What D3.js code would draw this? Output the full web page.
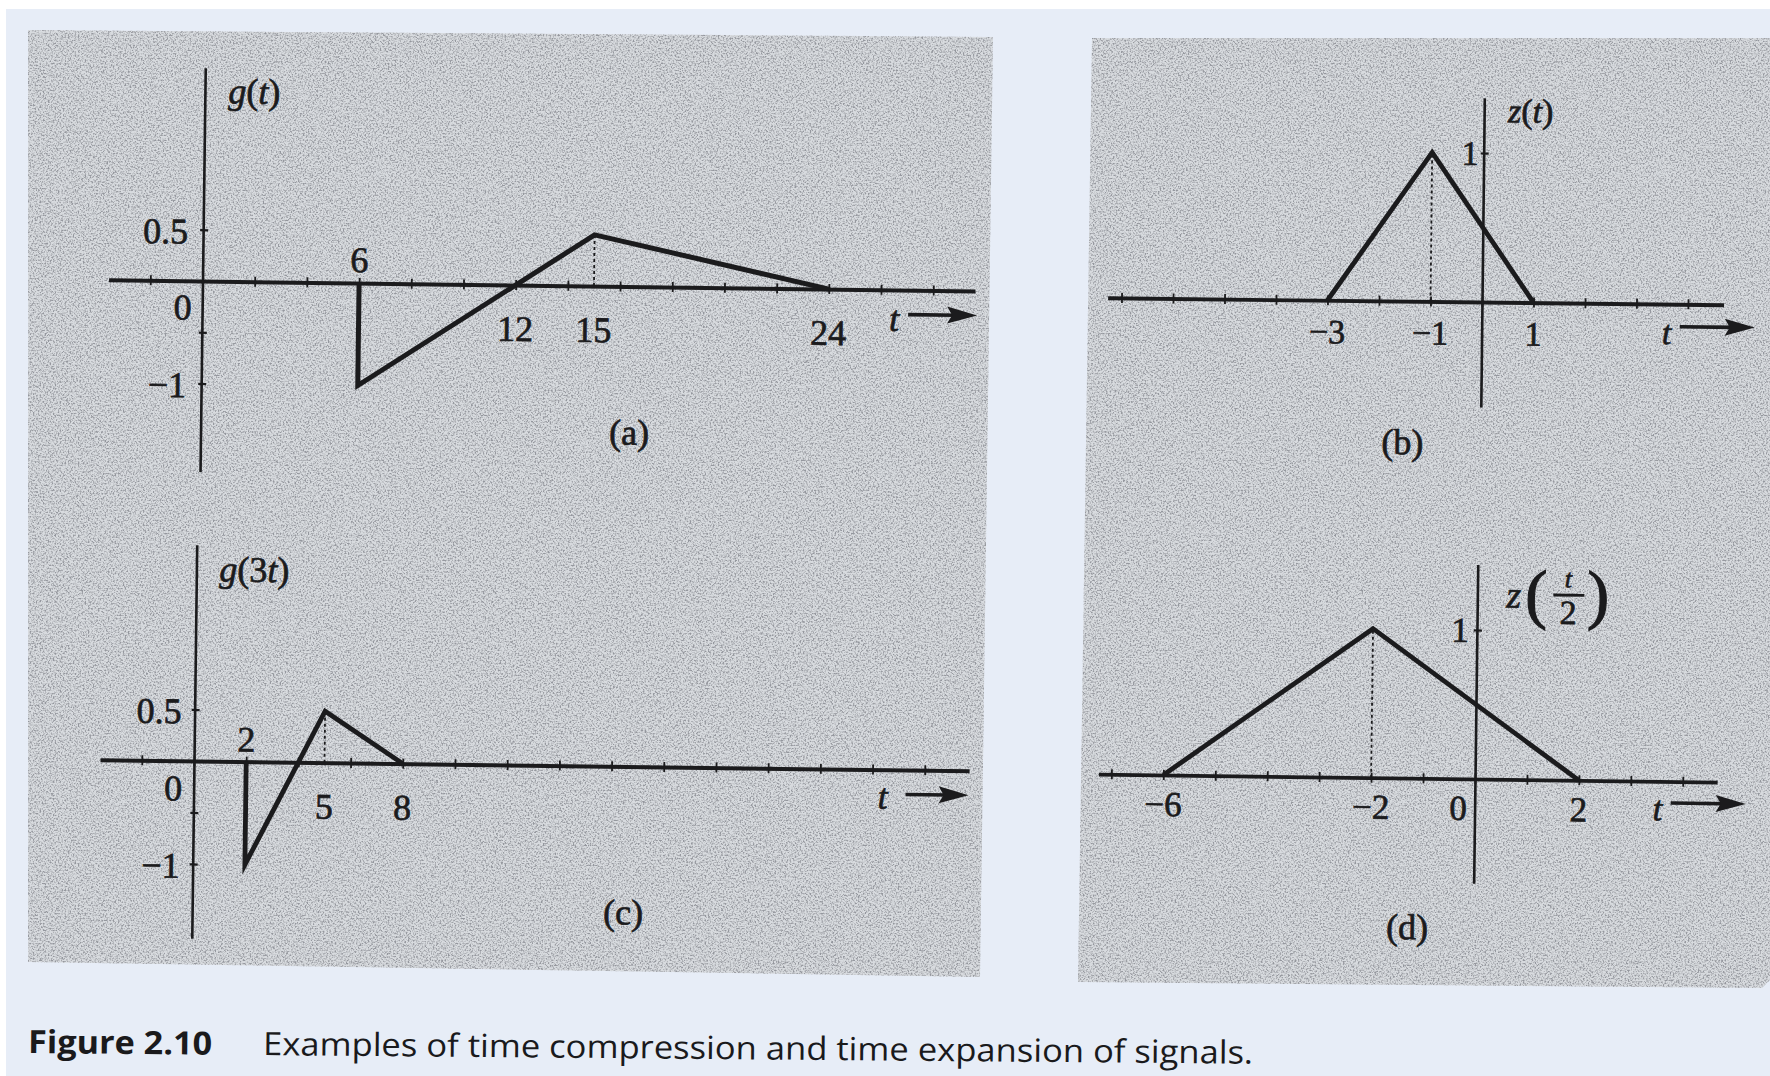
<!DOCTYPE html>
<html><head><meta charset="utf-8">
<script src="https://cdn.jsdelivr.net/npm/d3@7"></script>
<style>
html,body{margin:0;padding:0;background:#ffffff;}
svg{display:block;}
</style></head><body>
<svg id="fig" width="1770" height="1076"></svg>
<script>
// ---------------- data ----------------
const gTime  = [6, 6, 15, 24];
const gValue = [0, -1, 0.5, 0];
const g3Time  = [2, 2, 5, 8];
const g3Value = [0, -1, 0.5, 0];
const zTime  = [-3, -1, 1];
const zValue = [0, 1, 0];
const z2Time  = [-6, -2, 2];
const z2Value = [0, 1, 0];

const gPeak = [15, 0.5], g3Peak = [5, 0.5], zPeak = [-1, 1], z2Peak = [-2, 1];

const gLabelsAbove = [6],  gLabelsBelow = [12, 15, 24];
const g3LabelsAbove = [2], g3LabelsBelow = [5, 8];
const zLabelsBelow = [-3, -1, 1];
const z2LabelsBelow = [-6, -2, 2];
const gYLabels = [0.5, -1], g3YLabels = [0.5, -1], zYLabels = [1], z2YLabels = [1];
const gYTicks = [0.5, -0.5, -1], zYTicks = [1];
const gXTicks = d3.range(-2, 30, 2), zXTicks = d3.range(-7, 5, 1);

const captionBold = "Figure 2.10";
const captionText = "Examples of time compression and time expansion of signals.";

// ---------------- layout ----------------
const ink = "#1b1b1d";
const serif = "'Liberation Serif','DejaVu Serif',serif";
const fmt = d3.format("~g");

const svg = d3.select("#fig");
const defs = svg.append("defs");
const f = defs.append("filter").attr("id", "grain")
  .attr("x", 0).attr("y", 0).attr("width", "100%").attr("height", "100%");
f.append("feTurbulence").attr("type", "fractalNoise").attr("baseFrequency", 0.6)
  .attr("numOctaves", 3).attr("seed", 7).attr("result", "n");
f.append("feColorMatrix").attr("in", "n").attr("type", "matrix")
  .attr("values", "0 0 0 0 0.30  0 0 0 0 0.31  0 0 0 0 0.34  3.2 0 0 0 -1.35").attr("result", "d");
f.append("feComposite").attr("in", "d").attr("in2", "SourceGraphic").attr("operator", "in").attr("result", "m");
const fm = f.append("feMerge");
fm.append("feMergeNode").attr("in", "SourceGraphic");
fm.append("feMergeNode").attr("in", "m");

// page
svg.append("rect").attr("x", 6).attr("y", 9).attr("width", 1764).attr("height", 1067).attr("fill", "#e7edf7");
// scanned grey panels
const panelShapes = [
  [[28, 30], [993, 37], [980, 977], [28, 962]],
  [[1092, 38], [1770, 38], [1770, 980], [1762, 988], [1078, 982]]
];
svg.selectAll("polygon.bg").data(panelShapes).enter().append("polygon")
  .attr("class", "bg")
  .attr("points", d => d.map(p => p.join(",")).join(" "))
  .attr("fill", "#d8dbdf").attr("filter", "url(#grain)");

const panels = [
  { id: "a", time: gTime, value: gValue, peak: gPeak, origin: [202.5, 281], ux: 26.1, uy: 102.5,
    tExt: [-3.6, 29.6], vExt: [-1.86, 2.08], rot: 0.74, xTicks: gXTicks, yTicks: gYTicks,
    above: gLabelsAbove, below: gLabelsBelow, yLabels: gYLabels, zero: [-19.5, 38.5],
    fs: 36, belowDy: 56, aboveDy: -11, yLabelDx: -15, yLabelDy: 14,
    title: [["g", true], ["(", false], ["t", true], [")", false]], titlePos: [23.5, -178],
    letter: "(a)", letterPos: [428.5, 158], tPos: [692, 41], arrow: [706, 775, 24.5],
    sw: 5, axw: 4 },
  { id: "c", time: g3Time, value: g3Value, peak: g3Peak, origin: [194, 761], ux: 26.1, uy: 103,
    tExt: [-3.6, 29.7], vExt: [-1.72, 2.1], rot: 0.72, xTicks: gXTicks, yTicks: gYTicks,
    above: g3LabelsAbove, below: g3LabelsBelow, yLabels: g3YLabels, zero: [-20.5, 39.5],
    fs: 36, belowDy: 56, aboveDy: -10, yLabelDx: -13, yLabelDy: 14,
    title: [["g", true], ["(3", false], ["t", true], [")", false]], titlePos: [23, -180],
    letter: "(c)", letterPos: [431, 158], tPos: [689, 39], arrow: [712, 775, 24.5],
    sw: 4.8, axw: 4 },
  { id: "b", time: zTime, value: zValue, peak: zPeak, origin: [1482, 302], ux: 51.5, uy: 149,
    tExt: [-7.27, 4.69], vExt: [-0.705, 1.37], rot: 0.65, xTicks: zXTicks, yTicks: zYTicks,
    above: [], below: zLabelsBelow, yLabels: zYLabels, zero: null,
    fs: 34, belowDy: 43, aboveDy: 0, yLabelDx: -5, yLabelDy: 12,
    title: [["z", true], ["(", false], ["t", true], [")", false]], titlePos: [24, -180],
    letter: "(b)", letterPos: [-78, 153], tPos: [185, 40], arrow: [198, 273, 22.5],
    sw: 4.8, axw: 3.8 },
  { id: "d", time: z2Time, value: z2Value, peak: z2Peak, origin: [1475, 779], ux: 51.95, uy: 149,
    tExt: [-7.25, 4.66], vExt: [-0.70, 1.44], rot: 0.74, xTicks: zXTicks, yTicks: zYTicks,
    above: [], below: z2LabelsBelow, yLabels: z2YLabels, zero: [-16.5, 41],
    fs: 35, belowDy: 41, aboveDy: 0, yLabelDx: -8, yLabelDy: 12,
    title: null, titlePos: [29, -174],
    letter: "(d)", letterPos: [-66, 161], tPos: [183, 39], arrow: [196, 271, 21.5],
    sw: 4.8, axw: 3.8 }
];

panels.forEach(p => {
  const g = svg.append("g")
    .attr("transform", `translate(${p.origin[0]},${p.origin[1]}) rotate(${p.rot})`);
  const x = d3.scaleLinear().domain(p.tExt).range(p.tExt.map(t => t * p.ux));
  const y = d3.scaleLinear().domain(p.vExt).range(p.vExt.map(v => -v * p.uy));

  // horizontal axis
  const xa = g.append("g").call(d3.axisBottom(x).tickValues(p.xTicks).tickSizeOuter(0).tickSizeInner(4).tickFormat(""));
  xa.select(".domain").attr("stroke", ink).attr("stroke-width", p.axw);
  xa.selectAll(".tick line").attr("stroke", ink).attr("stroke-width", 1.8).attr("y1", -5).attr("y2", 5);

  // vertical axis
  const ya = g.append("g").call(d3.axisLeft(y).tickValues(p.yTicks).tickSizeOuter(0).tickSizeInner(4).tickFormat(""));
  ya.select(".domain").attr("stroke", ink).attr("stroke-width", 2.6);
  ya.selectAll(".tick line").attr("stroke", ink).attr("stroke-width", 2.2).attr("x1", -3).attr("x2", 5);

  // dotted guide
  g.append("line")
    .attr("x1", x(p.peak[0])).attr("x2", x(p.peak[0]))
    .attr("y1", y(0)).attr("y2", y(p.peak[1]))
    .attr("stroke", ink).attr("stroke-width", 1.8).attr("stroke-dasharray", "3,3");

  // signal
  const pts = p.time.map((t, i) => [t, p.value[i]]);
  g.append("path").datum(pts)
    .attr("d", d3.line().x(d => x(d[0])).y(d => y(d[1])))
    .attr("fill", "none").attr("stroke", ink).attr("stroke-width", p.sw)
    .attr("stroke-linejoin", "miter").attr("stroke-miterlimit", 10);

  const txt = g.append("g").attr("font-family", serif).attr("font-size", p.fs).attr("fill", ink)
    .attr("stroke", ink).attr("stroke-width", 0.7);

  // time labels
  txt.selectAll("text.below").data(p.below).enter().append("text")
    .attr("x", d => x(d)).attr("y", p.belowDy).attr("text-anchor", "middle").text(d => fmt(d));
  txt.selectAll("text.above").data(p.above).enter().append("text")
    .attr("x", d => x(d)).attr("y", p.aboveDy).attr("text-anchor", "middle").text(d => fmt(d));
  if (p.zero) txt.append("text").attr("x", p.zero[0]).attr("y", p.zero[1]).attr("text-anchor", "middle").text("0");

  // value labels
  txt.selectAll("text.yl").data(p.yLabels).enter().append("text")
    .attr("x", p.yLabelDx).attr("y", d => y(d) + p.yLabelDy).attr("text-anchor", "end").text(d => fmt(d));

  // title
  if (p.title) {
    const tt = txt.append("text").attr("x", p.titlePos[0]).attr("y", p.titlePos[1]);
    p.title.forEach(([s, it]) => tt.append("tspan").attr("font-style", it ? "italic" : "normal").text(s));
  } else {
    const tg = txt.append("g").attr("transform", `translate(${p.titlePos[0]},${p.titlePos[1]})`);
    tg.append("text").attr("x", 0).attr("y", 2).attr("font-style", "italic").attr("font-size", 38).text("z");
    tg.append("text").attr("x", 19).attr("y", 10).attr("font-size", 66).attr("stroke-width", 1.2).text("(");
    tg.append("text").attr("x", 62).attr("y", -19).attr("font-style", "italic").attr("font-size", 26)
      .attr("text-anchor", "middle").text("t");
    tg.append("line").attr("x1", 47).attr("x2", 78).attr("y1", -11).attr("y2", -11)
      .attr("stroke", ink).attr("stroke-width", 2.8);
    tg.append("text").attr("x", 62).attr("y", 18).attr("font-size", 34).attr("text-anchor", "middle").text("2");
    tg.append("text").attr("x", 81).attr("y", 10).attr("font-size", 66).attr("stroke-width", 1.2).text(")");
  }

  // panel letter
  txt.append("text").attr("x", p.letterPos[0]).attr("y", p.letterPos[1])
    .attr("text-anchor", "middle").attr("font-size", 36).text(p.letter);

  // t -> arrow
  txt.append("text").attr("x", p.tPos[0]).attr("y", p.tPos[1]).attr("text-anchor", "middle")
    .attr("font-style", "italic").text("t");
  const [a0, a1, ay] = p.arrow;
  g.append("line").attr("x1", a0).attr("x2", a1 - 20).attr("y1", ay).attr("y2", ay)
    .attr("stroke", ink).attr("stroke-width", 3.6);
  g.append("path")
    .attr("d", `M${a1},${ay} L${a1 - 30},${ay - 8.5} L${a1 - 25},${ay} L${a1 - 30},${ay + 8.5} Z`)
    .attr("fill", ink);
});

// caption
const cap = svg.append("g").attr("transform", "translate(28,1053) rotate(0.5)")
  .attr("font-family", "'Open Sans','Noto Sans',sans-serif").attr("font-size", 32).attr("fill", "#1a1a1c");
cap.append("text").attr("x", 0).attr("y", 0).attr("font-weight", "bold")
  .attr("textLength", 184).attr("lengthAdjust", "spacingAndGlyphs").text(captionBold);
cap.append("text").attr("x", 235).attr("y", 0)
  .attr("textLength", 990).attr("lengthAdjust", "spacingAndGlyphs").text(captionText);
</script>
</body></html>
